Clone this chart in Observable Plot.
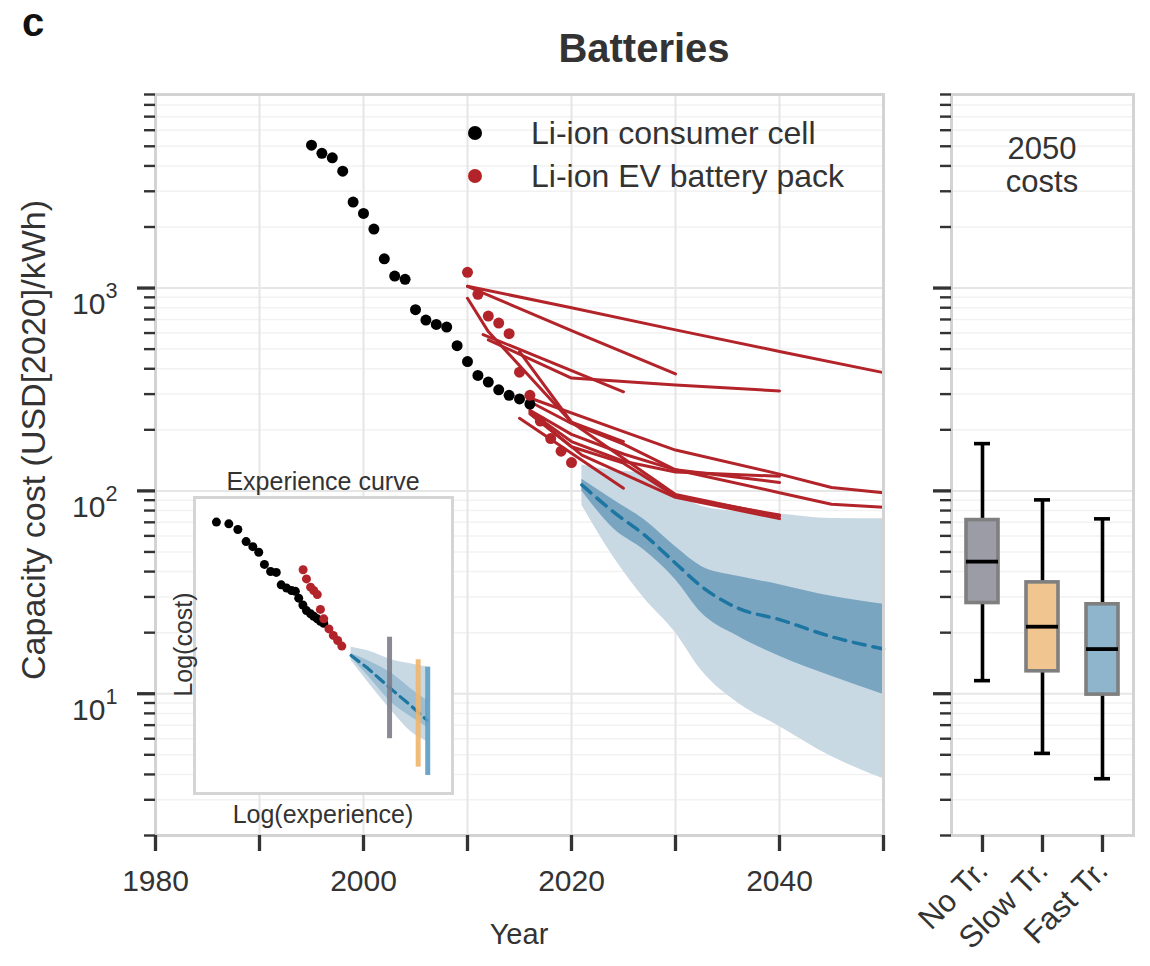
<!DOCTYPE html>
<html>
<head>
<meta charset="utf-8">
<script src="https://cdn.jsdelivr.net/npm/d3@7"></script>
<script src="https://cdn.jsdelivr.net/npm/@observablehq/plot@0.6"></script>
<style>
  body { margin: 0; background: #fff; font-family: "Liberation Sans", Arial, sans-serif; color: #333; }
  #wrap { position: relative; width: 1150px; height: 966px; overflow: hidden; background: #fff; }
  #wrap > svg, #wrap > div { position: absolute; }
  .txt { white-space: nowrap; color: #333; }
</style>
</head>
<body>
<div id="wrap"></div>
<script>
const FONT = '"Liberation Sans", Arial, sans-serif';
const RED = "#b3242a";

// Historical Li-ion costs (USD[2020]/kWh)
const consumerYears = [1995,1996,1997,1998,1999,2000,2001,2002,2003,2004,2005,2006,2007,2008,2009,2010,2011,2012,2013,2014,2015,2016];
const consumerCost  = [5060,4615,4385,3767,2655,2334,1954,1394,1146,1104,782,695,662,642,520,434,371,344,315,296,284,268];
const evYears = [2010,2011,2012,2013,2014,2015,2016,2017,2018,2019,2020];
const evCost  = [1195,931,728,672,596,385,296,221,181,157,138];

// Published EV pack cost projections, [year, cost] pairs
const evProjections = [
  [[2010,1020],[2020,800],[2030,622],[2040,487],[2050,383]],
  [[2010,1020],[2020,617],[2030,377]],
  [[2010,890],[2012,610],[2020,218],[2030,96],[2040,75]],
  [[2012,555],[2020,360],[2030,333],[2040,311]],
  [[2011.5,590],[2025,308]],
  [[2015,486],[2020,218],[2025,175]],
  [[2016,287],[2025,196],[2030,159],[2040,121],[2045,104],[2050,98]],
  [[2016,275],[2020,215],[2025,170],[2030,127],[2040,110]],
  [[2016,250],[2020,190],[2025,152],[2030,127],[2040,98],[2045,86],[2050,83]],
  [[2016,245],[2020,175],[2025,140],[2030,124],[2040,118]],
  [[2016,240],[2020,165],[2025,137],[2030,94],[2040,76]],
  [[2017,220],[2021,150],[2030,93],[2040,73]],
  [[2015,228],[2025,103]]
];

// Forecast distribution (fast transition)
const projYears  = [2021,2024,2027,2030,2032.5,2036,2040,2045,2050];
const projP05    = [85,47.5,29.5,20,13,9.0,6.9,4.9,3.81];
const projP25    = [100,65.5,51,36.5,25,19.2,15.3,12.2,9.9];
const projMedian = [107,79,60.7,44,33.8,26.4,23.2,19.1,16.6];
const projP75    = [114,90.4,72,53,42.4,37.9,34.5,30.2,27.6];
const projP95    = [134,126,122,97.5,84,79,77,73,72.8];

// 2050 cost distributions by scenario
const scenarios = ["No Tr.","Slow Tr.","Fast Tr."];
const boxLow    = [11.6,5.08,3.81];
const boxQ1     = [28,12.9,9.9];
const boxMedian = [44.8,21.4,16.6];
const boxQ3     = [71.8,35.4,27.6];
const boxHigh   = [171,90.3,72.8];
const boxFill   = ["#9c9ca7","#f0c590","#8fb5cc"];

// Axis ticks
const majorTicks = [10,100,1000];
const minorTicks = [2,3,4,5,6,7,8,9,20,30,40,50,60,70,80,90,200,300,400,500,600,700,800,900,2000,3000,4000,5000,6000,7000,8000,9000];
const yearTicks = [1980,1990,2000,2010,2020,2030,2040,2050];
const yearLabels = [1980,2000,2020,2040];
const yearGrid = [1990,2000,2010,2020,2030,2040];

// Experience-curve inset (log experience vs log cost, arbitrary units)
const insetConsumerX = [0.85,1.33,1.68,2.00,2.26,2.49,2.71,2.95,3.17,3.36,3.57,3.76,3.91,4.04,4.20,4.34,4.50,4.62,4.76,4.88,5.01];
const insetConsumerY = [9.17,9.11,8.92,8.51,8.34,8.15,7.74,7.50,7.47,7.05,6.94,6.86,6.83,6.60,6.37,6.18,6.07,5.99,5.90,5.82,5.75];
const insetEvX = [4.21,4.34,4.50,4.62,4.76,4.88,5.01,5.21,5.38,5.55,5.71];
const insetEvY = [7.56,7.25,6.97,6.86,6.72,6.22,5.90,5.56,5.34,5.17,4.98];
const insetBandX   = [6.07,6.69,7.73,8.37,9.02];
const insetP05     = [4.50,3.80,2.70,2.10,1.75];
const insetP25     = [4.60,4.00,3.00,2.60,2.24];
const insetMedian  = [4.66,4.25,3.45,2.98,2.47];
const insetP75     = [4.72,4.50,4.00,3.55,3.14];
const insetP95     = [4.94,4.83,4.49,4.38,4.27];
const insetBarX    = [7.56,8.67,9.04];
const insetBarLow  = [1.85,0.89,0.61];
const insetBarHigh = [5.28,4.52,4.27];
const insetBarColor = ["#7d7d8a","#f0b56c","#5b9cc4"];

const wrap = document.getElementById("wrap");

const projectionRows = evProjections.flatMap((pts, k) => pts.map(([year, cost]) => ({k, year, cost})));
const idx = arr => arr.map((_, i) => i);

function gridMarks() {
  return [
    Plot.ruleY(minorTicks, {stroke: "#f2f2f2", strokeWidth: 1.5}),
    Plot.ruleY(majorTicks, {stroke: "#e6e6e6", strokeWidth: 2})
  ];
}

// Main panel: cost vs year
const main = Plot.plot({
  width: 900, height: 966,
  marginLeft: 155, marginRight: 17, marginTop: 94, marginBottom: 131,
  style: {fontFamily: FONT, fontSize: "30px", color: "#333", background: "transparent", overflow: "visible"},
  x: {domain: [1980, 2050]},
  y: {type: "log", domain: [2, 9000]},
  marks: [
    ...gridMarks(),
    Plot.ruleX(yearGrid, {stroke: "#e6e6e6", strokeWidth: 2}),
    Plot.areaY(idx(projYears), {x: i => projYears[i], y1: i => projP05[i], y2: i => projP95[i], fill: "#c8d9e4", curve: "monotone-x"}),
    Plot.areaY(idx(projYears), {x: i => projYears[i], y1: i => projP25[i], y2: i => projP75[i], fill: "#7aa5c1", curve: "monotone-x"}),
    Plot.line(idx(projYears), {x: i => projYears[i], y: i => projMedian[i], stroke: "#1d76a2", strokeWidth: 3.5, strokeDasharray: "12,8", curve: "monotone-x"}),
    Plot.line(projectionRows, {x: "year", y: "cost", z: "k", stroke: RED, strokeWidth: 3}),
    Plot.dot(idx(consumerYears), {x: i => consumerYears[i], y: i => consumerCost[i], r: 5.5, fill: "black"}),
    Plot.dot(idx(evYears), {x: i => evYears[i], y: i => evCost[i], r: 5.5, fill: RED}),
    Plot.frame({stroke: "#d3d3d3", strokeWidth: 3}),
    Plot.axisY({ticks: majorTicks, tickSize: 18, strokeWidth: 3.3, tickPadding: 20, fontSize: 30, label: null,
      tickFormat: d => "10^" + Math.round(Math.log10(d))}),
    Plot.axisY({ticks: minorTicks, tickSize: 11, strokeWidth: 2.4, tickFormat: () => "", label: null}),
    Plot.axisX({ticks: yearTicks, tickSize: 16, strokeWidth: 3.3, tickPadding: 18, fontSize: 30, label: null,
      tickFormat: d => yearLabels.includes(d) ? String(d) : ""})
  ]
});
main.style.left = "0px"; main.style.top = "0px";
wrap.appendChild(main);

// Powers of ten as superscripts
d3.select(main).selectAll('g[aria-label="y-axis tick label"] text').each(function() {
  const t = d3.select(this);
  const s = t.text();
  if (!s.includes("^")) return;
  const e = s.split("^")[1];
  t.text("10").attr("dy", "0.55em");
  t.append("tspan").attr("dy", "-0.75em").attr("font-size", "0.72em").text(e);
});

// Right panel: 2050 costs per scenario
const side = Plot.plot({
  width: 250, height: 966,
  marginLeft: 51, marginRight: 17, marginTop: 94, marginBottom: 131,
  style: {fontFamily: FONT, fontSize: "30px", color: "#333", background: "transparent", overflow: "visible"},
  x: {type: "band", domain: scenarios, paddingInner: 0.46, paddingOuter: 0.23},
  y: {type: "log", domain: [2, 9000]},
  color: {type: "identity"},
  marks: [
    ...gridMarks(),
    Plot.ruleX(idx(scenarios), {x: i => scenarios[i], y1: i => boxLow[i], y2: i => boxQ1[i], stroke: "black", strokeWidth: 3.6}),
    Plot.ruleX(idx(scenarios), {x: i => scenarios[i], y1: i => boxQ3[i], y2: i => boxHigh[i], stroke: "black", strokeWidth: 3.6}),
    Plot.tickY(idx(scenarios), {x: i => scenarios[i], y: i => boxLow[i], stroke: "black", strokeWidth: 3.6, insetLeft: 8, insetRight: 8}),
    Plot.tickY(idx(scenarios), {x: i => scenarios[i], y: i => boxHigh[i], stroke: "black", strokeWidth: 3.6, insetLeft: 8, insetRight: 8}),
    Plot.barY(idx(scenarios), {x: i => scenarios[i], y1: i => boxQ1[i], y2: i => boxQ3[i], fill: i => boxFill[i], stroke: "#7f7f7f", strokeWidth: 3.6}),
    Plot.tickY(idx(scenarios), {x: i => scenarios[i], y: i => boxMedian[i], stroke: "black", strokeWidth: 3.8}),
    Plot.frame({stroke: "#d3d3d3", strokeWidth: 3}),
    Plot.axisY({ticks: majorTicks, tickSize: 18, strokeWidth: 3.3, tickFormat: () => "", label: null}),
    Plot.axisY({ticks: minorTicks, tickSize: 11, strokeWidth: 2.4, tickFormat: () => "", label: null}),
    Plot.axisX({tickSize: 17, strokeWidth: 3.3, tickRotate: -45, tickPadding: 13, fontSize: 31, label: null})
  ]
});
side.style.left = "900px"; side.style.top = "0px";
wrap.appendChild(side);

// Inset: experience curve
const inset = Plot.plot({
  width: 258, height: 296, margin: 0,
  style: {background: "transparent", overflow: "visible"},
  x: {domain: [0, 10], axis: null},
  y: {domain: [0, 10], axis: null},
  color: {type: "identity"},
  marks: [
    Plot.frame({fill: "white", stroke: "#d5d5d5", strokeWidth: 3}),
    Plot.areaY(idx(insetBandX), {x: i => insetBandX[i], y1: i => insetP05[i], y2: i => insetP95[i], fill: "#c8d9e4", curve: "monotone-x"}),
    Plot.areaY(idx(insetBandX), {x: i => insetBandX[i], y1: i => insetP25[i], y2: i => insetP75[i], fill: "#9dbdd2", curve: "monotone-x"}),
    Plot.line(idx(insetBandX), {x: i => insetBandX[i], y: i => insetMedian[i], stroke: "#1d76a2", strokeWidth: 3.2, strokeDasharray: "10,6"}),
    Plot.ruleX(idx(insetBarX), {x: i => insetBarX[i], y1: i => insetBarLow[i], y2: i => insetBarHigh[i], stroke: i => insetBarColor[i], strokeWidth: 5, strokeOpacity: 0.9}),
    Plot.dot(idx(insetConsumerX), {x: i => insetConsumerX[i], y: i => insetConsumerY[i], r: 4.5, fill: "black"}),
    Plot.dot(idx(insetEvX), {x: i => insetEvX[i], y: i => insetEvY[i], r: 4.5, fill: RED})
  ]
});
inset.style.left = "194px"; inset.style.top = "497px";
wrap.appendChild(inset);

// Text annotations
function addText(text, css) {
  const d = document.createElement("div");
  d.className = "txt";
  d.textContent = text;
  Object.assign(d.style, css);
  wrap.appendChild(d);
  return d;
}
addText("c", {left: "22px", top: "2px", fontSize: "40px", lineHeight: "40px", fontWeight: "bold", color: "#111"});
addText("Batteries", {left: "444px", width: "400px", textAlign: "center", top: "28px", fontSize: "40px", lineHeight: "40px", fontWeight: "bold"});
addText("Capacity cost (USD[2020]/kWh)", {left: "-267px", top: "423px", width: "600px", height: "34px", textAlign: "center",
  fontSize: "34px", lineHeight: "34px", transform: "rotate(-90deg)"});
addText("Year", {left: "419px", width: "200px", textAlign: "center", top: "920px", fontSize: "29px", lineHeight: "29px"});
addText("2050\ncosts", {left: "942px", width: "200px", textAlign: "center", top: "132px", fontSize: "31px", lineHeight: "33px", whiteSpace: "pre"});
addText("Experience curve", {left: "173px", width: "300px", textAlign: "center", top: "469px", fontSize: "25px", lineHeight: "25px"});
addText("Log(experience)", {left: "173px", width: "300px", textAlign: "center", top: "802px", fontSize: "25px", lineHeight: "25px"});
addText("Log(cost)", {left: "83px", top: "632px", width: "200px", height: "25px", textAlign: "center",
  fontSize: "25px", lineHeight: "25px", transform: "rotate(-90deg)"});

// Legend
function legendRow(color, text, cy) {
  const dot = document.createElement("div");
  Object.assign(dot.style, {left: "468px", top: (cy - 7) + "px", width: "14px", height: "14px", borderRadius: "50%", background: color});
  wrap.appendChild(dot);
  addText(text, {left: "531px", top: (cy - 16) + "px", fontSize: "32px", lineHeight: "32px"});
}
legendRow("black", "Li-ion consumer cell", 133);
legendRow(RED, "Li-ion EV battery pack", 176);
</script>
</body>
</html>
